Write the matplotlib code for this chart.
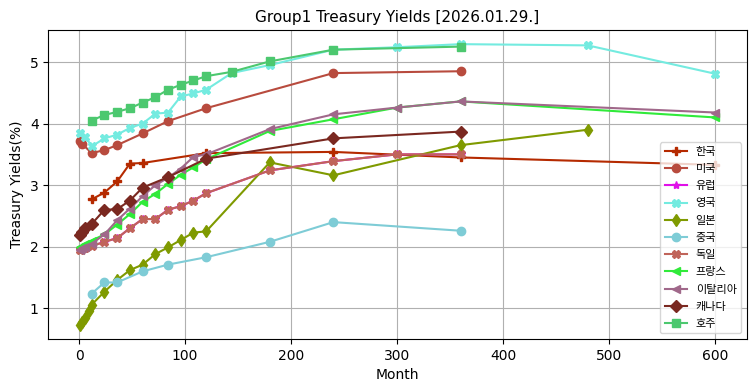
import matplotlib
matplotlib.use("Agg")
import matplotlib.pyplot as plt

plt.rcParams['font.family'] = ['DejaVu Sans', 'Noto Sans CJK KR']

title = "Group1 Treasury Yields [2026.01.29.]"

kr_m = [12, 24, 36, 48, 60, 120, 240, 360, 600]
kr_y = [2.77, 2.88, 3.06, 3.35, 3.36, 3.52, 3.54, 3.45, 3.33]

us_m = [1, 3, 12, 24, 36, 60, 84, 120, 240, 360]
us_y = [3.71, 3.67, 3.52, 3.57, 3.65, 3.84, 4.04, 4.25, 4.82, 4.85]

uk_m = [1, 6, 12, 24, 36, 48, 60, 72, 84, 96, 108, 120, 144, 180, 240, 300, 360, 480, 600]
uk_y = [3.84, 3.79, 3.63, 3.76, 3.82, 3.93, 4.0, 4.16, 4.18, 4.44, 4.49, 4.55, 4.82, 4.95, 5.2, 5.24, 5.29, 5.27, 4.81]

jp_m = [1, 3, 6, 9, 12, 24, 36, 48, 60, 72, 84, 96, 108, 120, 180, 240, 360, 480]
jp_y = [0.73, 0.77, 0.84, 0.95, 1.06, 1.27, 1.46, 1.62, 1.71, 1.88, 1.99, 2.11, 2.23, 2.25, 3.37, 3.16, 3.65, 3.9]

cn_m = [12, 24, 36, 60, 84, 120, 180, 240, 360]
cn_y = [1.24, 1.42, 1.42, 1.6, 1.71, 1.83, 2.08, 2.4, 2.26]

de_m = [1, 3, 6, 12, 24, 36, 48, 60, 72, 84, 96, 108, 120, 180, 240, 300, 360]
de_y = [1.95, 1.96, 1.98, 2.01, 2.08, 2.14, 2.3, 2.45, 2.45, 2.6, 2.66, 2.75, 2.87, 3.24, 3.39, 3.5, 3.5]

fr_m = [1, 3, 6, 12, 24, 36, 48, 60, 72, 84, 96, 108, 120, 180, 240, 300, 360, 600]
fr_y = [2.0, 2.02, 2.05, 2.1, 2.2, 2.36, 2.53, 2.73, 2.86, 3.02, 3.17, 3.29, 3.42, 3.88, 4.07, 4.26, 4.36, 4.1]

it_m = [1, 3, 6, 12, 24, 36, 48, 60, 72, 84, 96, 108, 120, 180, 240, 300, 360, 600]
it_y = [1.95, 1.98, 2.0, 2.05, 2.2, 2.43, 2.62, 2.82, 3.0, 3.12, 3.27, 3.46, 3.5, 3.91, 4.15, 4.26, 4.36, 4.18]

ca_m = [1, 3, 6, 12, 24, 36, 48, 60, 84, 120, 240, 360]
ca_y = [2.19, 2.24, 2.31, 2.37, 2.6, 2.61, 2.75, 2.96, 3.13, 3.43, 3.76, 3.87]

au_m = [12, 24, 36, 48, 60, 72, 84, 96, 108, 120, 144, 180, 240, 360]
au_y = [4.05, 4.14, 4.19, 4.25, 4.34, 4.43, 4.55, 4.63, 4.7, 4.77, 4.84, 5.01, 5.2, 5.25]

series = [
    ("한국", kr_m, kr_y, "#B52A00", "P"),
    ("미국", us_m, us_y, "#B84B3E", "o"),
    ("유럽", de_m, de_y, "#E010E8", "*"),
    ("영국", uk_m, uk_y, "#74EBE0", "X"),
    ("일본", jp_m, jp_y, "#7F9A00", "d"),
    ("중국", cn_m, cn_y, "#7ECCD6", "o"),
    ("독일", de_m, de_y, "#C0645A", "X"),
    ("프랑스", fr_m, fr_y, "#30EA3A", "<"),
    ("이탈리아", it_m, it_y, "#A0688A", "<"),
    ("캐나다", ca_m, ca_y, "#7A2820", "D"),
    ("호주", au_m, au_y, "#4CC86F", "s"),
]

fig, ax = plt.subplots(figsize=(7.55, 3.91), dpi=100)
fig.subplots_adjust(left=0.064, right=0.989, top=0.923, bottom=0.133)

for name, m, y, c, mk in series:
    ax.plot(m, y, color=c, marker=mk, markersize=6, linewidth=1.5, label=name)

ax.set_title(title, fontsize=11)
ax.set_xlabel("Month")
ax.set_ylabel("Treasury Yields(%)")
ax.grid(True)
ax.legend(loc="lower right", fontsize=8, labelspacing=0.65)

fig.savefig("out.png", dpi=100)
